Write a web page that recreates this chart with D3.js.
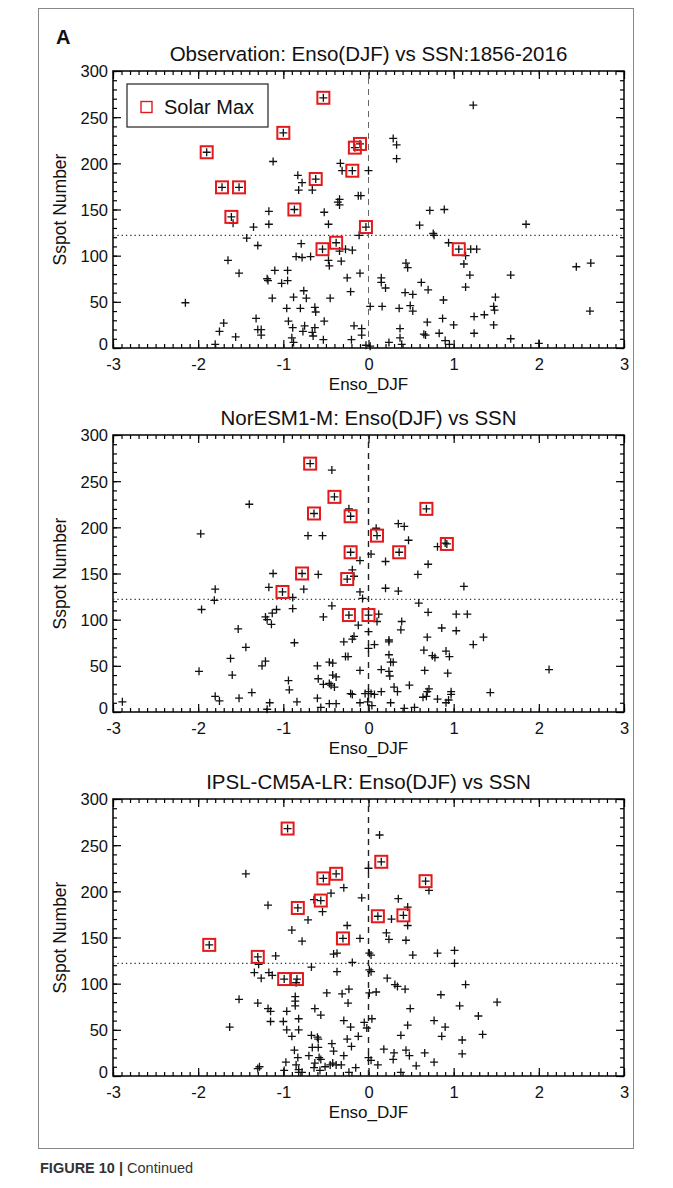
<!DOCTYPE html>
<html>
<head>
<meta charset="utf-8">
<script src="https://d3js.org/d3.v7.min.js"></script>
<style>
  body { margin: 0; background: #fff; }
  svg { display: block; }
  text { font-family: "Liberation Sans", Arial, Helvetica, sans-serif; fill: #111; }
</style>
</head>
<body>
<svg width="673" height="1188"></svg>
<script>
// ---- data: [Enso_DJF, sunspot number] ----
var obsMax = [[-0.53,271],[-1.00,233],[-1.90,212],[-1.72,174],[-1.52,174],[-0.62,183],[-0.10,221],[-0.16,217],
  [-0.19,192],[-1.61,142],[-0.87,150],[-0.54,107],[-0.38,114],[-0.03,131],[1.06,107]];
var obsPoints = [[-1.12,202],[-0.83,187],[-0.78,179],[-0.82,171],[-0.66,171],[1.23,263],[-0.33,200],[-0.31,192],
  [0.0,192],[0.29,227],[0.33,220],[0.33,205],[-0.12,165],[-0.09,165],[-0.34,161],[-1.59,135],[-1.17,148],
  [-1.17,134],[-1.35,131],[-1.43,119],[-1.30,111],[-1.65,95],[-1.52,81],[-1.10,84],[-1.19,75],[-1.18,73],
  [-0.95,84],[-1.02,70],[-0.95,73],[-1.13,54],[-0.88,55],[-0.73,54],[-0.76,62],[-0.96,43],[-0.80,43],
  [-0.63,44],[-0.62,39],[-0.45,54],[-2.15,49],[-1.70,27],[-1.75,18],[-1.56,12],[-1.80,4],[-1.32,32],
  [-1.30,20],[-1.26,20],[-1.26,14],[-0.94,29],[-0.89,22],[-0.90,11],[-0.88,6],[-0.75,24],[-0.77,18],
  [-0.66,17],[-0.63,22],[-0.65,13],[-0.52,29],[-0.53,9],[-0.85,99],[-0.78,98],[-0.79,113],[-0.68,99],
  [-0.52,147],[-0.47,134],[-0.36,158],[-0.47,95],[-0.46,89],[-0.32,94],[-0.34,155],[-0.11,122],
  [-0.34,105],[-0.27,107],[-0.19,106],[-0.25,76],[-0.10,81],[-0.21,61],[0.02,45],[0.16,45],[-0.17,24],
  [-0.08,21],[-0.08,14],[-0.20,9],[0.24,6],[0.37,21],[0.37,11],[0.39,4],[0.15,76],[0.15,71],[0.20,65],
  [0.44,92],[0.46,87],[0.43,60],[0.52,58],[0.36,43],[0.49,46],[0.52,40],[0.62,71],[0.70,63],[0.60,133],
  [0.72,149],[0.89,150],[0.76,124],[0.77,122],[0.94,114],[1.20,107],[1.27,107],[1.14,100],[1.12,91],
  [1.19,79],[1.14,66],[0.88,52],[0.69,28],[0.87,32],[1.00,25],[0.65,15],[0.67,14],[0.83,16],[0.90,8],
  [0.95,4],[1.24,34],[1.36,36],[1.24,16],[1.49,55],[1.47,45],[1.48,41],[1.47,25],[1.67,79],[1.67,10],
  [1.85,134],[2.00,5],[2.44,88],[2.61,92],[2.60,40],[-0.03,3],[0.02,2]];

var norMax = [[-0.685,269],[-0.40,233],[-0.64,215],[-0.21,212],[0.10,191],[0.68,220],[0.92,182],[-0.21,173],
  [0.36,173],[-0.25,144],[-0.78,150],[-1.01,130],[-0.23,105],[0.0,105]];
var norPoints = [[-0.43,262],[-1.40,225],[-1.97,193],[-0.71,191],[-0.54,191],[-1.12,150],[-0.59,149],[-0.23,220],
  [0.09,199],[0.35,204],[0.42,201],[0.47,186],[0.81,179],[0.90,183],[0.03,171],[-0.10,164],[0.20,163],
  [0.70,160],[0.58,149],[-0.19,154],[-0.17,147],[-1.17,135],[-0.76,133],[-1.80,133],[-1.81,121],
  [-1.96,111],[-1.08,111],[-1.13,107],[-1.21,103],[-1.19,100],[-1.14,95],[-0.89,124],[-0.89,112],
  [-0.53,103],[-0.43,115],[-1.53,90],[-1.44,70],[-0.87,75],[-1.62,58],[-1.60,40],[-1.25,50],[-1.21,55],
  [-1.99,44],[-0.94,34],[-0.93,24],[-1.80,17],[-1.75,12],[-1.52,15],[-1.37,21],[-1.16,10],[-1.19,3],
  [-0.84,11],[-2.89,11],[-0.60,50],[-0.46,54],[-0.42,53],[-0.59,36],[-0.53,30],[-0.46,31],[-0.40,27],
  [-0.42,40],[-0.38,38],[-0.60,15],[-0.56,5],[-0.46,9],[-0.38,9],[1.12,136],[0.20,134],[0.35,131],
  [-0.10,130],[-0.07,123],[0.59,118],[0.12,106],[0.10,98],[0.70,108],[1.03,106],[1.16,106],[0.39,98],
  [0.38,89],[-0.12,94],[0.0,87],[0.86,91],[1.03,88],[-0.29,76],[-0.19,79],[-0.17,82],[0.24,78],[0.24,76],
  [0.69,81],[1.35,81],[1.23,73],[0.0,69],[0.07,73],[0.65,67],[0.75,61],[0.78,59],[0.91,66],[0.95,60],
  [-0.27,60],[-0.24,60],[0.24,62],[0.26,54],[0.29,54],[-0.10,45],[0.15,46],[0.24,44],[0.25,39],[0.66,45],
  [0.93,42],[2.12,46],[0.48,29],[0.30,27],[0.34,22],[0.71,25],[0.69,22],[-0.44,29],[0.97,22],[0.97,19],
  [1.43,21],[-0.21,20],[-0.19,19],[-0.04,20],[0.0,22],[0.03,20],[0.07,19],[0.15,22],[0.64,16],[0.68,17],
  [0.81,14],[0.91,10],[0.94,13],[-0.10,10],[-0.01,11],[0.04,7],[0.26,10],[0.42,4],[0.54,5]];

var ipslMax = [[-0.95,268],[-0.53,214],[-0.38,219],[-0.56,190],[-0.83,182],[-1.87,142],[-0.30,149],[0.15,232],
  [0.67,211],[0.11,173],[0.41,174],[-1.30,129],[-0.99,105],[-0.84,105]];
var ipslPoints = [[-1.44,219],[-0.44,198],[-0.64,191],[-0.54,178],[-1.18,185],[-0.71,169],[-0.90,158],[-0.78,146],
  [0.13,261],[0.71,201],[-0.29,204],[0.0,225],[-0.08,193],[0.35,192],[0.46,183],[0.27,170],[0.46,163],
  [-0.25,163],[-0.10,149],[0.21,155],[0.24,148],[0.44,147],[-1.29,121],[-1.09,130],[-0.67,118],
  [-1.34,112],[-1.26,106],[-1.17,112],[-1.13,109],[-0.85,101],[-0.37,133],[-0.37,113],[-0.49,90],
  [-1.52,83],[-1.30,79],[-0.86,86],[-0.86,81],[-0.86,76],[-1.18,73],[-1.15,70],[-1.15,59],[-0.96,70],
  [-1.00,59],[-0.82,62],[-0.82,50],[-0.96,50],[-0.90,43],[-0.63,73],[-0.56,66],[-1.63,53],[-0.67,44],
  [-0.60,42],[-0.59,40],[-0.43,35],[-0.41,27],[-0.87,28],[-0.83,20],[-0.70,22],[-0.66,31],[-0.59,31],
  [-0.58,20],[-0.56,18],[-0.63,14],[-0.64,9],[-0.97,15],[-0.99,6],[-0.85,12],[-0.82,7],[-0.78,4],
  [-0.82,4],[-1.28,10],[-1.30,8],[-0.57,6],[-0.51,10],[-0.45,12],[-0.42,14],[-0.41,132],[0.01,133],
  [0.03,131],[0.52,131],[0.81,133],[1.01,136],[1.01,122],[-0.19,123],[0.01,115],[0.03,113],[0.22,106],
  [0.31,99],[0.34,97],[0.43,94],[1.14,99],[-0.23,94],[-0.31,89],[0.01,90],[0.09,91],[0.85,88],[-0.24,79],
  [1.51,80],[0.49,73],[1.07,76],[1.29,65],[-0.29,60],[-0.21,53],[-0.05,58],[-0.02,52],[0.04,62],[0.77,60],
  [0.90,53],[0.46,55],[0.38,44],[0.86,43],[1.34,45],[1.10,39],[1.10,24],[-0.12,43],[-0.25,40],[-0.20,32],
  [0.18,29],[0.30,25],[0.29,18],[0.44,28],[0.48,22],[0.66,25],[0.77,15],[0.56,11],[-0.29,22],[0.0,20],
  [0.03,17],[0.11,12],[0.38,4],[-0.15,9],[-0.23,4],[-0.32,12],[-0.38,12]];

var panelTitles = ["Observation: Enso(DJF) vs SSN:1856-2016", "NorESM1-M: Enso(DJF) vs SSN",
  "IPSL-CM5A-LR: Enso(DJF) vs SSN"];
var xTicks = [-3, -2, -1, 0, 1, 2, 3];
var yTicks = [0, 50, 100, 150, 200, 250, 300];
var ssnThreshold = 122;

var svg = d3.select("svg");
var left = 113, right = 624, plotH = 277;
var tops = [71, 435, 799];
var red = "#e3191c";

// figure frame and caption
svg.append("rect").attr("x", 38.5).attr("y", 8.5).attr("width", 595).attr("height", 1140)
  .attr("fill", "none").attr("stroke", "#888").attr("stroke-width", 1);
svg.append("text").attr("x", 56).attr("y", 44).style("font-size", "20px").style("font-weight", "bold").text("A");
var cap = svg.append("text").attr("x", 40).attr("y", 1173).style("font-size", "14.5px").style("fill", "#333");
cap.append("tspan").style("font-weight", "bold").text("FIGURE 10 | ");
cap.append("tspan").text("Continued");

var x = d3.scaleLinear().domain([-3, 3]).range([left, right]);
var plain = function(d) { return String(d); };

function styleAxis(g) {
  g.select(".domain").remove();
  g.selectAll(".tick line").attr("stroke", "#000").attr("stroke-width", 1.2);
  g.selectAll("text").style("font-size", "16.5px").attr("fill", "#111")
    .style("font-family", '"Liberation Sans", Arial, sans-serif');
}

function drawPanel(i, pts, maxPts, legend) {
  var top = tops[i];
  var y = d3.scaleLinear().domain([0, 300]).range([top + plotH, top]);
  var g = svg.append("g");
  var minorX = d3.range(-30, 31).map(function(d) { return d / 10; });
  var minorY = d3.range(0, 301, 10);

  // minor ticks on all four sides
  g.append("g").attr("transform", "translate(0," + (top + plotH) + ")")
    .call(d3.axisBottom(x).tickValues(minorX).tickSize(-4).tickFormat("")).call(styleAxis);
  g.append("g").attr("transform", "translate(0," + top + ")")
    .call(d3.axisTop(x).tickValues(minorX).tickSize(-4).tickFormat("")).call(styleAxis);
  g.append("g").attr("transform", "translate(" + left + ",0)")
    .call(d3.axisLeft(y).tickValues(minorY).tickSize(-4).tickFormat("")).call(styleAxis);
  g.append("g").attr("transform", "translate(" + right + ",0)")
    .call(d3.axisRight(y).tickValues(minorY).tickSize(-4).tickFormat("")).call(styleAxis);

  // major ticks
  var xb = g.append("g").attr("transform", "translate(0," + (top + plotH) + ")")
    .call(d3.axisBottom(x).tickValues(xTicks).tickSize(-8).tickFormat(plain))
    .call(styleAxis);
  xb.selectAll("text").attr("y", 22).attr("dy", null);
  g.append("g").attr("transform", "translate(0," + top + ")")
    .call(d3.axisTop(x).tickValues(xTicks).tickSize(-8).tickFormat("")).call(styleAxis);
  var yl = g.append("g").attr("transform", "translate(" + left + ",0)")
    .call(d3.axisLeft(y).tickValues(yTicks).tickSize(-8).tickFormat(plain))
    .call(styleAxis);
  yl.selectAll("text").attr("x", -5).attr("dy", function(d) { return d === 0 ? "0.1em" : "0.36em"; });
  g.append("g").attr("transform", "translate(" + right + ",0)")
    .call(d3.axisRight(y).tickValues(yTicks).tickSize(-8).tickFormat("")).call(styleAxis);

  // box
  g.append("rect").attr("x", left).attr("y", top).attr("width", right - left).attr("height", plotH)
    .attr("fill", "none").attr("stroke", "#000").attr("stroke-width", 1.5);

  // reference lines
  g.append("line").attr("x1", x(0)).attr("x2", x(0)).attr("y1", y(0)).attr("y2", y(300))
    .attr("stroke", i === 0 ? "#666" : "#222").attr("stroke-width", i === 0 ? 1 : 1.4)
    .attr("stroke-dasharray", "6,5");
  g.append("line").attr("x1", left).attr("x2", right).attr("y1", y(ssnThreshold)).attr("y2", y(ssnThreshold))
    .attr("stroke", "#333").attr("stroke-width", 1.2).attr("stroke-dasharray", "1.3,3");

  // points
  g.selectAll(".pt").data(pts.concat(maxPts)).enter().append("path")
    .attr("class", "pt")
    .attr("d", function(d) { var px = x(d[0]), py = y(d[1]);
      return "M" + (px - 4) + "," + py + "H" + (px + 4) + "M" + px + "," + (py - 4) + "V" + (py + 4); })
    .attr("stroke", "#111").attr("stroke-width", 1.3).attr("fill", "none");
  g.selectAll(".mx").data(maxPts).enter().append("rect")
    .attr("class", "mx")
    .attr("x", function(d) { return x(d[0]) - 6; })
    .attr("y", function(d) { return y(d[1]) - 6; })
    .attr("width", 12).attr("height", 12)
    .attr("fill", "none").attr("stroke", red).attr("stroke-width", 2);

  // titles and axis labels
  g.append("text").attr("x", (left + right) / 2).attr("y", top - 10).attr("text-anchor", "middle")
    .style("font-size", "20.5px").text(panelTitles[i]);
  g.append("text").attr("x", (left + right) / 2).attr("y", top + plotH + 41.5).attr("text-anchor", "middle")
    .style("font-size", "17px").text("Enso_DJF");
  g.append("text").attr("transform", "translate(66," + (top + plotH / 2) + ") rotate(-90)")
    .attr("text-anchor", "middle").style("font-size", "17.5px").text("Sspot Number");

  if (legend) {
    g.append("rect").attr("x", 127).attr("y", 84).attr("width", 141).attr("height", 43)
      .attr("fill", "#fff").attr("stroke", "#222").attr("stroke-width", 1.2);
    g.append("rect").attr("x", 141).attr("y", 101.5).attr("width", 11).attr("height", 11)
      .attr("fill", "none").attr("stroke", red).attr("stroke-width", 1.4);
    g.append("text").attr("x", 164).attr("y", 114).style("font-size", "20px").text("Solar Max");
  }
}

drawPanel(0, obsPoints, obsMax, true);
drawPanel(1, norPoints, norMax, false);
drawPanel(2, ipslPoints, ipslMax, false);
</script>
</body>
</html>
